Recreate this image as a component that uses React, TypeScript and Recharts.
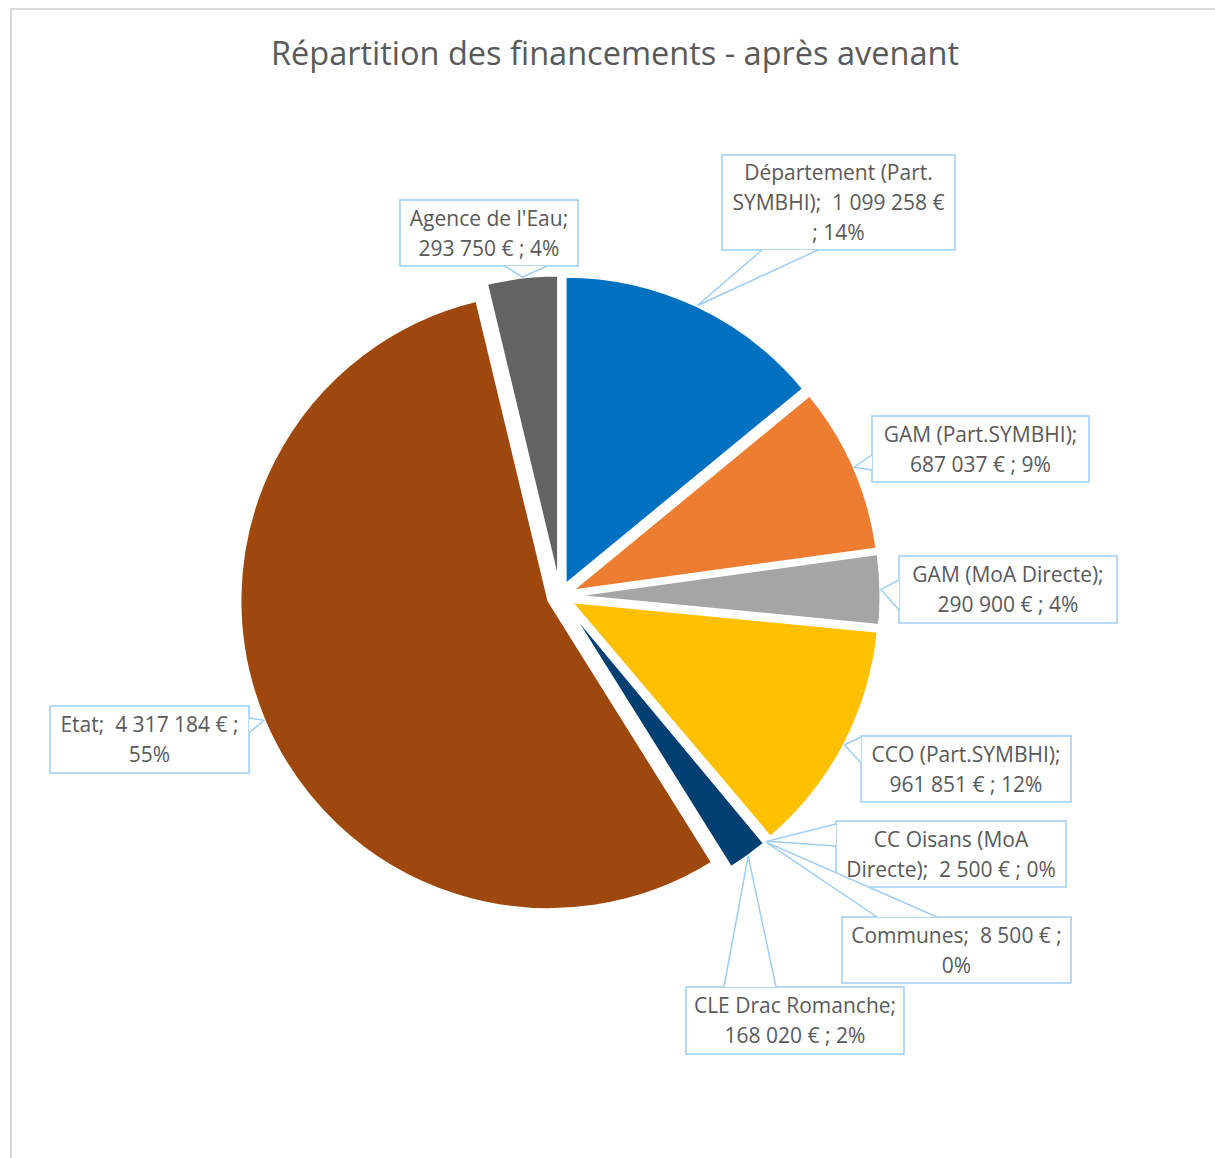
import React from 'react';
import { PieChart, Pie, Sector } from 'recharts';

// financeurs, dans l'ordre du camembert (sens horaire depuis midi)
const names = [
  'Département (Part. SYMBHI)',
  'GAM (Part.SYMBHI)',
  'GAM (MoA Directe)',
  'CCO (Part.SYMBHI)',
  'CC Oisans (MoA Directe)',
  'Communes',
  'CLE Drac Romanche',
  'Etat',
  "Agence de l'Eau",
];
const amounts = [1099258, 687037, 290900, 961851, 2500, 8500, 168020, 4317184, 293750];
const colors = ['#0070c0', '#ed7d31', '#a5a5a5', '#ffc000', '#5b9bd5', '#70ad47', '#003f72', '#9e480e', '#636363'];

// boîtes d'étiquettes (x, y, w, h) + base de la pointe + largeur de retour à la ligne
const callouts = [
  { x: 722, y: 155, w: 233, h: 95, base: [[762, 250], [818, 250]], wrap: 22 },
  { x: 872, y: 416, w: 217, h: 66, base: [[872, 455], [872, 470]], wrap: 18 },
  { x: 899, y: 556, w: 218, h: 67, base: [[899, 580], [899, 610]], wrap: 18 },
  { x: 861, y: 736, w: 210, h: 66, base: [[861, 737], [861, 763]], wrap: 18 },
  { x: 836, y: 821, w: 230, h: 66, base: [[836, 824], [836, 846]], wrap: 23 },
  { x: 842, y: 917, w: 229, h: 66, base: [[877, 917], [937, 917]], wrap: 20 },
  { x: 686, y: 987, w: 218, h: 67, base: [[724, 987], [776, 987]], wrap: 18 },
  { x: 50, y: 706, w: 199, h: 67, base: [[249, 718], [249, 733]], wrap: 20 },
  { x: 400, y: 200, w: 178, h: 66, base: [[505, 266], [547, 266]], wrap: 18 },
];

const data = names.map((name, i) => ({ name, value: amounts[i] }));
const total = amounts.reduce((s, v) => s + v, 0);

const RAD = Math.PI / 180;
const EXPLODE = 12;
const FONT = "'Open Sans', sans-serif";
const TEXT = '#595959';
const BORDER = '#9dcdf3';

const fmt = (v: number) => String(v).replace(/\B(?=(\d{3})+(?!\d))/g, ' ');

const wrapText = (s: string, max: number) => {
  const lines: string[] = [];
  let cur = '';
  s.split(' ').forEach((w) => {
    const t = cur ? cur + ' ' + w : w;
    if (t.length > max && cur) {
      lines.push(cur.trim());
      cur = w;
    } else cur = t;
  });
  if (cur) lines.push(cur.trim());
  return lines;
};

const shift = (mid: number) => ({
  dx: EXPLODE * Math.cos(-mid * RAD),
  dy: EXPLODE * Math.sin(-mid * RAD),
});

const renderSlice = (p: any) => {
  const { cx, cy, outerRadius, startAngle, endAngle, midAngle, index } = p;
  const { dx, dy } = shift(midAngle);
  return (
    <Sector
      key={`s-${index}`}
      cx={cx + dx}
      cy={cy + dy}
      innerRadius={0}
      outerRadius={outerRadius}
      startAngle={startAngle}
      endAngle={endAngle}
      fill={colors[index]}
      stroke="#ffffff"
      strokeWidth={3}
    />
  );
};

const renderCallout = (p: any) => {
  const { cx, cy, outerRadius, midAngle, index } = p;
  const c = callouts[index];
  const { dx, dy } = shift(midAngle);
  const tx = cx + dx + outerRadius * Math.cos(-midAngle * RAD);
  const ty = cy + dy + outerRadius * Math.sin(-midAngle * RAD);
  const pct = Math.round((amounts[index] / total) * 100);
  const lines = wrapText(`${names[index]};  ${fmt(amounts[index])} € ; ${pct}%`, c.wrap);
  const midY = c.y + c.h / 2;
  const firstY = midY - ((lines.length - 1) * 30) / 2 + 7.5;
  const [b1, b2] = c.base;
  return (
    <g key={`c-${index}`}>
      <rect x={c.x} y={c.y} width={c.w} height={c.h} fill="#ffffff" stroke={BORDER} strokeWidth={1.5} />
      <polygon points={`${b1[0]},${b1[1]} ${tx},${ty} ${b2[0]},${b2[1]}`} fill="#ffffff" stroke="none" />
      <polyline points={`${b1[0]},${b1[1]} ${tx},${ty} ${b2[0]},${b2[1]}`} fill="none" stroke={BORDER} strokeWidth={1.5} />
      <text
        x={c.x + c.w / 2}
        y={firstY}
        textAnchor="middle"
        fontFamily={FONT}
        fontSize={21}
        fill={TEXT}
        style={{ whiteSpace: 'pre' }}
      >
        {lines.map((l, i) => (
          <tspan key={i} x={c.x + c.w / 2} y={firstY + i * 30}>
            {l}
          </tspan>
        ))}
      </text>
    </g>
  );
};

export default function App() {
  return (
    <div style={{ position: 'absolute', left: 0, top: 0, width: 1215, height: 1158, overflow: 'hidden', background: '#fff' }}>
      <div
        style={{
          position: 'absolute',
          left: 10,
          top: 8,
          width: 1230,
          height: 1180,
          border: '2px solid #d9d9d9',
          boxSizing: 'border-box',
        }}
      />
      <div style={{ position: 'absolute', left: 0, top: 0 }}>
        <PieChart width={1215} height={1158} margin={{ top: 0, right: 0, bottom: 0, left: 0 }}>
          <Pie
            data={data}
            dataKey="value"
            nameKey="name"
            cx={560}
            cy={596}
            outerRadius={309}
            startAngle={90}
            endAngle={-270}
            fill="none"
            stroke="none"
            label={renderSlice}
            labelLine={false}
            isAnimationActive={false}
          />
          <Pie
            data={data}
            dataKey="value"
            nameKey="name"
            cx={560}
            cy={596}
            outerRadius={309}
            startAngle={90}
            endAngle={-270}
            fill="none"
            stroke="none"
            label={renderCallout}
            labelLine={false}
            isAnimationActive={false}
          />
        </PieChart>
      </div>
      <svg width={1215} height={1158} style={{ position: 'absolute', left: 0, top: 0, pointerEvents: 'none' }}>
        <text x={615} y={65} textAnchor="middle" fontFamily={FONT} fontSize={32.5} fill={TEXT}>
          Répartition des financements - après avenant
        </text>
      </svg>
    </div>
  );
}
